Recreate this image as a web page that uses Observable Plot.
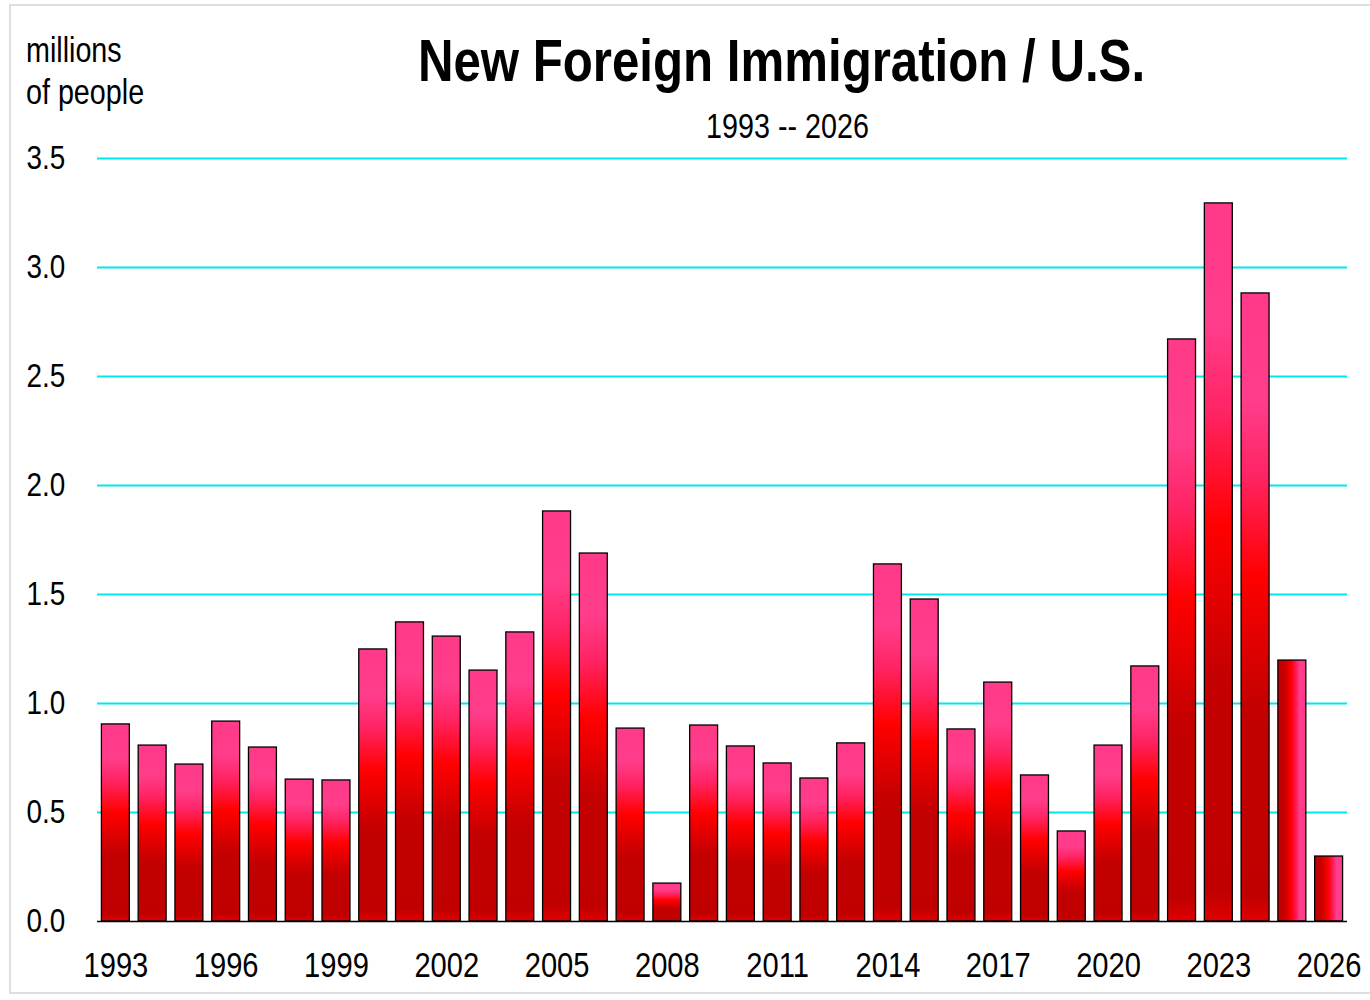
<!DOCTYPE html>
<html>
<head>
<meta charset="utf-8">
<script src="https://cdn.jsdelivr.net/npm/d3@7"></script>
<script src="https://cdn.jsdelivr.net/npm/@observablehq/plot@0.6"></script>
<style>
  html, body { margin: 0; padding: 0; background: #fff; }
  #wrap { position: relative; width: 1370px; height: 1000px; overflow: hidden; background: #fff;
          font-family: 'Liberation Sans Narrow', 'Arial Narrow', 'Liberation Sans', Arial, sans-serif; }
  #border { position: absolute; left: 9px; top: 4px; width: 1380px; height: 990px; border: 2px solid #dedede; box-sizing: border-box; }
  #chart { position: absolute; left: 0; top: 0; }
  .t { position: absolute; color: #000; white-space: nowrap; }
  #title { left: 0; width: 1563px; text-align: center; top: 31px; font-size: 60px; font-weight: bold; line-height: 1;
           transform: scaleX(0.82); transform-origin: 50% 0; }
  #subtitle { left: 0; width: 1575px; text-align: center; top: 108px; font-size: 35px; line-height: 1;
              transform: scaleX(0.82); transform-origin: 50% 0; }
  #unit { left: 26px; top: 29px; font-size: 35px; line-height: 42px; transform: scaleX(0.82); transform-origin: 0 0; }
</style>
</head>
<body>
<div id="wrap">
  <div id="border"></div>
  <div id="chart"></div>
  <div class="t" id="unit">millions<br>of people</div>
  <div class="t" id="title">New Foreign Immigration / U.S.</div>
  <div class="t" id="subtitle">1993 -- 2026</div>
</div>
<script>
const years = [1993,1994,1995,1996,1997,1998,1999,2000,2001,2002,2003,2004,2005,2006,2007,2008,2009,2010,
               2011,2012,2013,2014,2015,2016,2017,2018,2019,2020,2021,2022,2023,2024,2025,2026];
const immigrants = [0.904,0.807,0.720,0.917,0.798,0.651,0.647,1.248,1.372,1.307,1.151,1.326,1.881,1.688,0.885,0.174,
                    0.899,0.803,0.725,0.656,0.817,1.638,1.477,0.881,1.096,0.670,0.413,0.807,1.170,2.670,3.294,2.881,
                    1.197,0.298];
const projectedYears = [2025, 2026];
const xTickYears = [1993,1996,1999,2002,2005,2008,2011,2014,2017,2020,2023,2026];
const yTicks = [0,0.5,1.0,1.5,2.0,2.5,3.0,3.5];

const data = years.map((year, i) => ({year, value: immigrants[i], projected: projectedYears.includes(year)}));

function gradientDefs() {
  const defs = d3.create("svg:defs");
  const v = defs.append("linearGradient").attr("id", "vgrad").attr("x1", 0).attr("y1", 0).attr("x2", 0).attr("y2", 1);
  [[0,"#ff3a88"],[0.17,"#ff3d8b"],[0.29,"#ff2464"],[0.45,"#ff0000"],[0.66,"#c40000"],[0.96,"#c00000"],[1,"#e00000"]]
    .forEach(([o,c]) => v.append("stop").attr("offset", o).attr("stop-color", c));
  const h = defs.append("linearGradient").attr("id", "hgrad").attr("x1", 0).attr("y1", 0).attr("x2", 1).attr("y2", 0);
  [[0,"#c00000"],[0.25,"#c80000"],[0.48,"#ff0000"],[0.6,"#ff1040"],[0.78,"#ff3d8b"],[0.95,"#ff3d8b"],[1,"#e0306a"]]
    .forEach(([o,c]) => h.append("stop").attr("offset", o).attr("stop-color", c));
  return defs.node();
}

const chart = Plot.plot({
  width: 1370,
  height: 1000,
  marginLeft: 97,
  marginRight: 23,
  marginTop: 158,
  marginBottom: 79,
  style: {fontFamily: "'Liberation Sans Narrow','Arial Narrow','Liberation Sans',Arial,sans-serif", background: "transparent", color: "#000"},
  x: {type: "band", domain: years, paddingInner: 0.24, paddingOuter: 0.12, round: false, label: null},
  y: {domain: [0, 3.5], label: null},
  marks: [
    gradientDefs,
    Plot.ruleY(yTicks.filter(d => d > 0), {stroke: "#00e8ec", strokeWidth: 2}),
    Plot.barY(data.filter(d => !d.projected), {x: "year", y: "value", fill: "url(#vgrad)", stroke: "#000", strokeWidth: 1.3}),
    Plot.barY(data.filter(d => d.projected), {x: "year", y: "value", fill: "url(#hgrad)", stroke: "#000", strokeWidth: 1.3}),
    Plot.ruleY([0], {stroke: "#000", strokeWidth: 1.5}),
    Plot.axisX({ticks: xTickYears, tickSize: 0, tickPadding: 30, fontSize: 35.5, tickFormat: d => String(d), label: null, ariaLabel: "x-axis"}),
    Plot.axisY({ticks: yTicks, tickSize: 0, tickPadding: 71, textAnchor: "start", fontSize: 34, tickFormat: d3.format(".1f"), label: null, ariaLabel: "y-axis"})
  ]
});

// Narrow the axis labels horizontally (Arial Narrow look) around each label's own anchor.
chart.querySelectorAll("text").forEach(t => {
  let tr = t.getAttribute("transform") || "";
  const x = t.getAttribute("x");
  if (x !== null && isFinite(+x)) {
    tr += ` translate(${+x},0)`;
    t.removeAttribute("x");
  }
  t.setAttribute("transform", tr + " scale(0.82,1)");
});
document.getElementById("chart").appendChild(chart);
</script>
</body>
</html>
